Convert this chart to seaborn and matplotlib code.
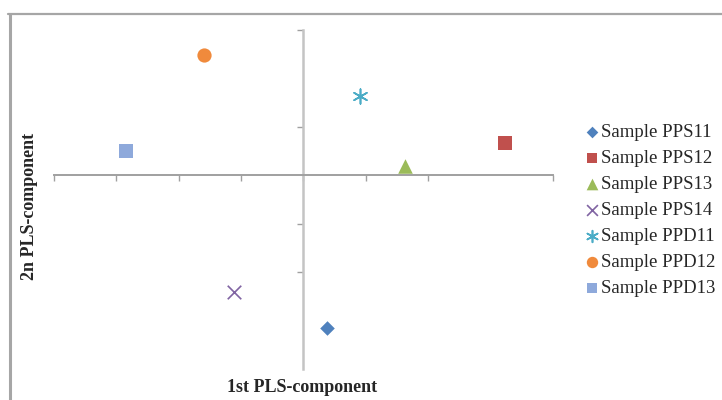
import matplotlib
matplotlib.use("Agg")
import matplotlib.pyplot as plt
from matplotlib.lines import Line2D
import seaborn as sns
import pandas as pd

# PLS score values for each sample
samples = ["Sample PPS11", "Sample PPS12", "Sample PPS13", "Sample PPS14",
           "Sample PPD11", "Sample PPD12", "Sample PPD13"]
pls1 = [0.38, 3.23, 1.63, -1.12, 0.90, -1.60, -2.85]
pls2 = [-3.15, 0.65, 0.18, -2.41, 1.63, 2.47, 0.49]

colors = ["#4F81BD", "#C0504D", "#9BBB59", "#8064A2", "#4BACC6", "#F08A3C", "#8EA9DB"]
markers = ["D", "s", "^", "x", (6, 2, 0), "o", "s"]
sizes = [55, 95, 110, 95, 110, 105, 95]

x_ticks = [-4, -3, -2, -1, 0, 1, 2, 4]
y_ticks = [3, 1, -1, -2]

df = pd.DataFrame({"sample": samples, "pls1": pls1, "pls2": pls2})

sns.set_style("white")
plt.rcParams["font.family"] = ["Liberation Serif", "DejaVu Serif"]

W, H = 722, 400
fig = plt.figure(figsize=(W / 100, H / 100), dpi=100)
ax = fig.add_axes([54 / W, 1 - 369 / H, 499 / W, (369 - 29.5) / H])

for i, row in df.iterrows():
    m = markers[i]
    filled = m not in ("x",) and not isinstance(m, tuple)
    sns.scatterplot(x=[row["pls1"]], y=[row["pls2"]], ax=ax, marker=m,
                    color=colors[i], s=sizes[i], label=row["sample"],
                    linewidth=0 if filled else 1.2, zorder=3)

ax.set_xlim(-4, 4)
ax.set_ylim(-4, 3)

# axes crossing at the origin
ax.spines["left"].set_position(("data", 0))
ax.spines["bottom"].set_position(("data", 0))
ax.spines["top"].set_visible(False)
ax.spines["right"].set_visible(False)
ax.spines["bottom"].set_color("#A0A0A0")
ax.spines["bottom"].set_linewidth(1.4)
ax.spines["left"].set_color("#C4C4C4")
ax.spines["left"].set_linewidth(1.8)

ax.set_xticks(x_ticks)
ax.set_yticks(y_ticks)
ax.set_xticklabels([])
ax.set_yticklabels([])
ax.tick_params(axis="x", direction="out", length=4, width=1, color="#A0A0A0", bottom=True)
ax.tick_params(axis="y", direction="out", length=4, width=1, color="#A0A0A0", left=True)
ax.set_xlabel("")
ax.set_ylabel("")

fig.text(302 / W, 1 - 388 / H, "1st PLS-component", ha="center", va="center",
         fontsize=13, fontweight="bold")
fig.text(30 / W, 1 - 206 / H, "2n PLS-component", ha="center", va="center",
         rotation=90, fontsize=13, fontweight="bold")

handles, labels = ax.get_legend_handles_labels()
ax.legend(handles, labels, loc="upper left", bbox_to_anchor=(587 / W, 1 - 123.5 / H),
          bbox_transform=fig.transFigure, frameon=False, fontsize=13.5,
          markerscale=0.8, handlelength=0.55, handletextpad=0.2,
          labelspacing=0.48, borderpad=0, borderaxespad=0)

# chart area border
fig.add_artist(Line2D([9.5 / W, 9.5 / W], [0, 1 - 14 / H], transform=fig.transFigure,
                      color="#A6A6A6", lw=2.2))
fig.add_artist(Line2D([8.4 / W, 1], [1 - 14 / H, 1 - 14 / H], transform=fig.transFigure,
                      color="#A6A6A6", lw=1.6))

fig.savefig("out.png", dpi=100)
